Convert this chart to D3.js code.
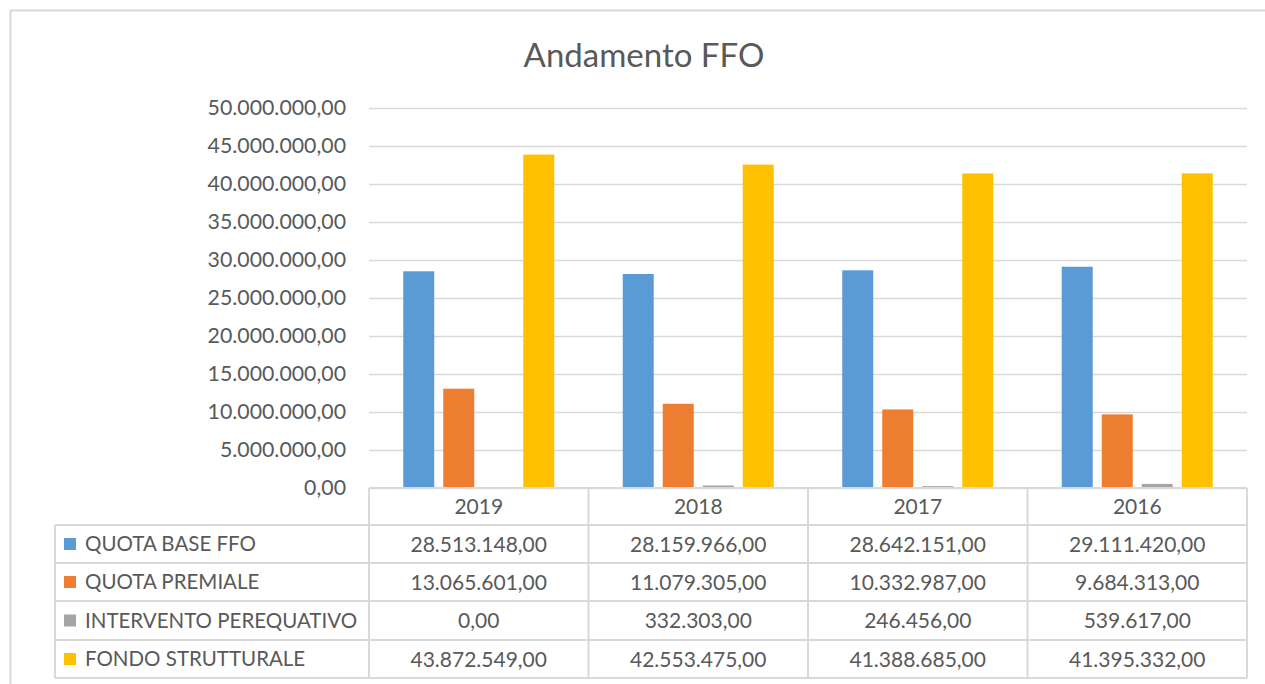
<!DOCTYPE html>
<html>
<head>
<meta charset="utf-8">
<script src="https://cdn.jsdelivr.net/npm/d3@7"></script>
<style>
  body { margin: 0; background: #fff; }
  svg text { font-family: Lato, "Open Sans", sans-serif; fill: #595959; }
</style>
</head>
<body>
<div id="container"></div>
<script>
// data
const years = ["2019", "2018", "2017", "2016"];
const seriesNames = ["QUOTA BASE FFO", "QUOTA PREMIALE", "INTERVENTO PEREQUATIVO", "FONDO STRUTTURALE"];
const quotaBase = [28513148, 28159966, 28642151, 29111420];
const quotaPremiale = [13065601, 11079305, 10332987, 9684313];
const interventoPerequativo = [0, 332303, 246456, 539617];
const fondoStrutturale = [43872549, 42553475, 41388685, 41395332];
const yTicks = [0, 5e6, 10e6, 15e6, 20e6, 25e6, 30e6, 35e6, 40e6, 45e6, 50e6];
const colors = ["#5B9BD5", "#ED7D31", "#A5A5A5", "#FFC000"];

const values = [quotaBase, quotaPremiale, interventoPerequativo, fondoStrutturale];

const it = d3.formatLocale({decimal: ",", thousands: ".", grouping: [3], currency: ["€", ""]});
const fmt = it.format(",.2f");

const W = 1265, H = 684;
let svg = d3.select('#container')
    .append('svg')
    .attr('width', W)
    .attr('height', H);

// outer chart frame (cut at right / bottom)
svg.append('path')
    .attr('d', `M10.5,${H + 5} V10.5 H${W + 5}`)
    .attr('fill', 'none')
    .attr('stroke', '#D9D9D9')
    .attr('stroke-width', 2);

let plotLeft = 369, plotRight = 1247, plotTop = 108, plotBottom = 488;

let x0 = d3.scaleBand().domain(years).range([plotLeft, plotRight]);
let x1 = d3.scaleBand().domain(seriesNames).range([0, x0.bandwidth()])
    .paddingInner(0.225).paddingOuter(0.856);
let y = d3.scaleLinear().domain([0, 50e6]).range([plotBottom, plotTop]);

// title
svg.append('text')
    .attr('x', 644)
    .attr('y', 67)
    .attr('text-anchor', 'middle')
    .style('font-size', '33px')
    .text('Andamento FFO');

// y axis + gridlines
let yAxis = svg.append('g')
    .attr('transform', `translate(${plotLeft},0)`)
    .call(d3.axisLeft(y).tickValues(yTicks).tickFormat(fmt).tickSize(-(plotRight - plotLeft)).tickPadding(23));
yAxis.select('.domain').remove();
yAxis.selectAll('.tick line').attr('stroke', '#D9D9D9').attr('stroke-width', 1.5);
yAxis.selectAll('.tick text')
    .attr('fill', '#595959')
    .style('font-family', 'Lato, sans-serif')
    .style('font-size', '21.3px');

// bars
let groups = svg.selectAll('g.year')
    .data(years)
    .enter()
    .append('g')
    .attr('class', 'year')
    .attr('transform', d => `translate(${x0(d)},0)`);

groups.selectAll('rect')
    .data((d, i) => seriesNames.map((s, j) => ({s: s, v: values[j][i], c: colors[j]})))
    .enter()
    .append('rect')
    .attr('x', d => x1(d.s))
    .attr('y', d => y(d.v))
    .attr('width', x1.bandwidth())
    .attr('height', d => plotBottom - y(d.v))
    .attr('fill', d => d.c);

// data table
let rowEdges = [488, 525, 563, 601, 640, 678];
let tableLeft = 55;
let lineColor = '#D9D9D9';
let tbl = svg.append('g');

// horizontal lines
tbl.append('line').attr('x1', plotLeft).attr('x2', plotRight).attr('y1', rowEdges[0]).attr('y2', rowEdges[0]);
rowEdges.slice(1).forEach(yy => {
    tbl.append('line').attr('x1', tableLeft).attr('x2', plotRight).attr('y1', yy).attr('y2', yy);
});
// vertical lines
tbl.append('line').attr('x1', tableLeft).attr('x2', tableLeft).attr('y1', rowEdges[1]).attr('y2', rowEdges[5]);
years.forEach(yr => {
    tbl.append('line').attr('x1', x0(yr)).attr('x2', x0(yr)).attr('y1', rowEdges[0]).attr('y2', rowEdges[5]);
});
tbl.append('line').attr('x1', plotRight).attr('x2', plotRight).attr('y1', rowEdges[0]).attr('y2', rowEdges[5]);
tbl.selectAll('line').attr('stroke', lineColor).attr('stroke-width', 2);

// header
tbl.selectAll('text.yr')
    .data(years)
    .enter()
    .append('text')
    .attr('class', 'yr')
    .attr('x', d => x0(d) + x0.bandwidth() / 2)
    .attr('y', (rowEdges[0] + rowEdges[1]) / 2)
    .attr('dy', '0.36em')
    .attr('text-anchor', 'middle')
    .style('font-size', '21px')
    .text(d => d);

// rows
seriesNames.forEach((s, j) => {
    let cy = (rowEdges[j + 1] + rowEdges[j + 2]) / 2;
    tbl.append('rect')
        .attr('x', 64)
        .attr('y', cy - 6)
        .attr('width', 12)
        .attr('height', 12)
        .attr('fill', colors[j]);
    tbl.append('text')
        .attr('x', 85)
        .attr('y', cy)
        .attr('dy', '0.36em')
        .style('font-size', '20.5px')
        .text(s);
    years.forEach((yr, i) => {
        tbl.append('text')
            .attr('x', x0(yr) + x0.bandwidth() / 2)
            .attr('y', cy)
            .attr('dy', '0.36em')
            .attr('text-anchor', 'middle')
            .style('font-size', '21px')
            .text(fmt(values[j][i]));
    });
});
</script>
</body>
</html>
